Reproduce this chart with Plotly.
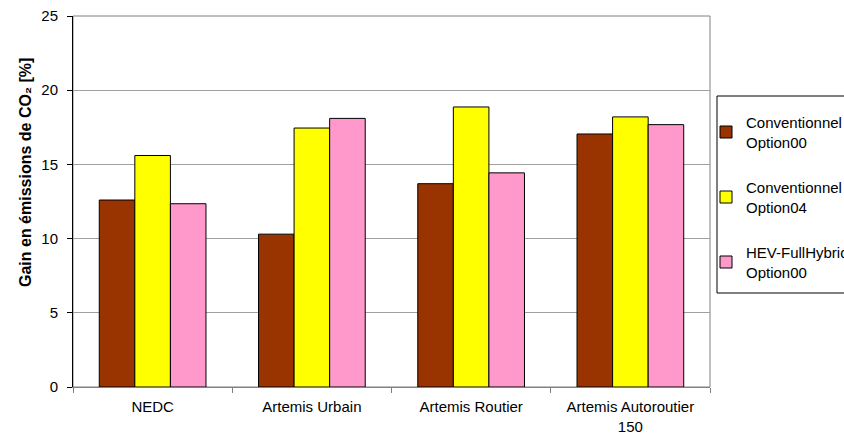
import plotly.graph_objects as go

categories = ["NEDC", "Artemis Urbain", "Artemis Routier", "Artemis Autoroutier<br>150"]
series_names = ["Conventionnel<br>Option00", "Conventionnel<br>Option04", "HEV-FullHybrid<br>Option00"]
conv_opt00 = [12.6, 10.3, 13.7, 17.05]
conv_opt04 = [15.6, 17.45, 18.87, 18.2]
hev_opt00 = [12.35, 18.1, 14.43, 17.68]
colors = ["#993300", "#FFFF00", "#FF99CC"]
y_ticks = [0, 5, 10, 15, 20, 25]

FONT = "Arial, Liberation Sans, sans-serif"

fig = go.Figure()
for i, (name, vals) in enumerate(zip(series_names, [conv_opt00, conv_opt04, hev_opt00])):
    fig.add_trace(go.Bar(
        x=categories, y=vals, name=name, legendgroup=str(i),
        marker=dict(color=colors[i], line=dict(color="black", width=1)),
    ))

fig.update_layout(
    width=844, height=434,
    margin=dict(l=73, r=134, t=16, b=47, autoexpand=False),
    paper_bgcolor="white", plot_bgcolor="white",
    barmode="group", bargap=0.33, bargroupgap=0,
    font=dict(family=FONT, size=15, color="black"),
    showlegend=True,
    legend=dict(
        x=(706 - 73) / 637, xanchor="left",
        y=(387 - 106) / 371, yanchor="top",
        bgcolor="rgba(0,0,0,0)", borderwidth=0,
        tracegroupgap=23, itemwidth=30,
        font=dict(family=FONT, size=15, color="black"),
        traceorder="grouped",
    ),
    xaxis=dict(
        showline=True, linecolor="#808080", linewidth=1,
        ticks="outside", tickson="boundaries", ticklen=5, tickcolor="#808080",
        showgrid=False, tickfont=dict(size=15), ticklabelstandoff=6,
    ),
    yaxis=dict(
        range=[0, 25], tickvals=y_ticks, showgrid=True, gridcolor="#a0a0a0", gridwidth=1,
        showline=True, linecolor="black", linewidth=1,
        ticks="outside", ticklen=5, tickcolor="black",
        tickfont=dict(size=15), zeroline=False, ticklabelstandoff=6,
    ),
    shapes=[
        dict(type="rect", xref="paper", yref="paper", x0=0, x1=1, y0=0, y1=1,
             line=dict(color="#808080", width=1), layer="below"),
        dict(type="rect", xref="paper", yref="paper",
             x0=(717 - 73) / 637, x1=(900 - 73) / 637,
             y0=(387 - 293) / 371, y1=(387 - 96) / 371,
             line=dict(color="black", width=1), layer="above"),
    ],
    annotations=[
        dict(text="<b>Gain en émissions de CO₂ [%]</b>", textangle=-90,
             xref="paper", yref="paper", x=(25 - 73) / 637, y=(387 - 173) / 371,
             xanchor="center", yanchor="middle", showarrow=False,
             font=dict(family=FONT, size=16, color="black")),
    ],
)

fig.write_html("out.html", config={"displayModeBar": False},
               post_script="document.body.style.margin='0';")
